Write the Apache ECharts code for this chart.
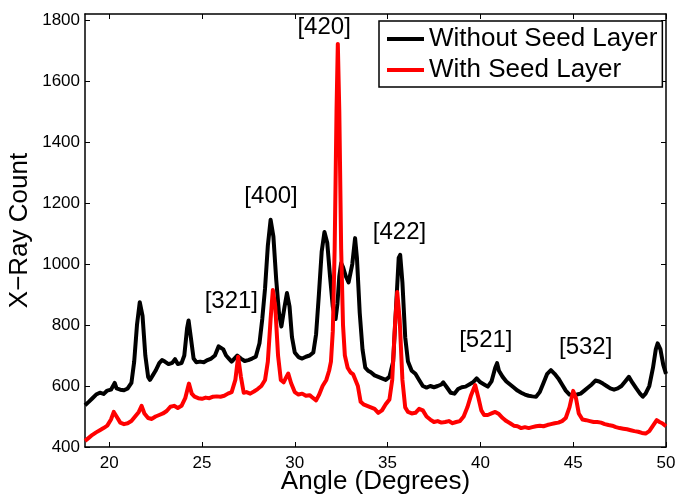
<!DOCTYPE html>
<html>
<head>
<meta charset="utf-8">
<script src="https://cdn.jsdelivr.net/npm/echarts@6/dist/echarts.min.js"></script>
<style>
  html, body { margin: 0; padding: 0; background: #fff; }
  #main { width: 676px; height: 497px; }
</style>
</head>
<body>
<div id="main"></div>
<script>
var angleBlack = [18.7,18.9,19.1,19.3,19.5,19.7,19.9,20.1,20.3,20.4,20.6,20.8,21.0,21.2,21.35,21.5,21.65,21.8,21.95,22.1,
  22.2,22.35,22.5,22.7,22.85,23.0,23.2,23.4,23.55,23.7,23.9,24.05,24.2,24.28,24.4,24.55,24.7,24.9,25.1,25.3,
  25.5,25.7,25.9,26.0,26.15,26.3,26.45,26.6,26.75,26.9,27.1,27.3,27.5,27.7,27.9,28.1,28.25,28.4,28.55,28.7,
  28.85,29.0,29.15,29.28,29.45,29.58,29.72,29.85,30.0,30.2,30.4,30.6,30.8,31.0,31.15,31.3,31.45,31.6,31.75,31.9,
  32.05,32.2,32.3,32.4,32.5,32.6,32.75,32.9,33.0,33.1,33.25,33.35,33.5,33.65,33.8,33.95,34.1,34.3,34.5,34.7,
  34.9,35.1,35.3,35.45,35.6,35.68,35.8,35.95,36.1,36.3,36.5,36.7,36.9,37.1,37.3,37.5,37.7,37.9,38.0,38.2,
  38.4,38.6,38.8,39.0,39.2,39.4,39.6,39.8,40.0,40.2,40.4,40.6,40.8,40.9,41.0,41.2,41.4,41.6,41.8,42.0,
  42.2,42.4,42.6,42.8,43.0,43.2,43.4,43.6,43.8,44.0,44.2,44.4,44.6,44.8,45.0,45.2,45.4,45.6,45.8,46.0,
  46.2,46.4,46.6,46.8,47.0,47.2,47.4,47.6,47.8,48.0,48.2,48.4,48.6,48.75,48.9,49.1,49.3,49.45,49.55,49.7,
  49.85,50.0];
var countBlack = [537,548,560,572,578,574,585,588,610,592,588,586,592,610,680,800,875,830,700,630,
  620,635,650,675,685,680,672,676,688,672,675,700,790,815,760,690,678,680,678,685,
  690,700,730,735,720,700,690,680,690,700,690,682,685,690,696,740,820,920,1060,1145,
  1090,950,840,795,860,905,860,760,710,695,690,696,700,710,770,900,1040,1105,1070,960,
  860,820,870,960,1003,990,960,940,945,1000,1085,1020,840,720,660,650,645,635,630,625,
  620,630,680,850,1020,1030,940,760,680,650,640,620,600,595,600,596,600,605,612,595,
  578,575,590,596,598,605,612,625,612,605,598,615,660,675,650,630,615,605,595,585,
  578,572,568,566,565,580,610,640,652,640,625,605,585,572,570,572,575,585,595,605,
  618,615,608,600,592,588,592,600,615,630,610,592,575,565,575,600,660,720,740,720,
  670,640];

var angleRed = [18.7,18.9,19.1,19.3,19.5,19.7,19.9,20.1,20.25,20.4,20.6,20.8,21.0,21.2,21.4,21.6,21.75,21.9,22.1,22.3,
  22.5,22.7,22.9,23.1,23.3,23.5,23.7,23.9,24.1,24.3,24.45,24.6,24.8,25.0,25.2,25.4,25.6,25.8,26.0,26.2,
  26.4,26.6,26.8,26.95,27.1,27.25,27.4,27.6,27.8,28.0,28.2,28.4,28.55,28.7,28.82,28.95,29.1,29.25,29.4,29.55,
  29.65,29.8,30.0,30.2,30.4,30.6,30.8,31.0,31.15,31.3,31.5,31.7,31.85,31.95,32.05,32.15,32.25,32.32,32.4,32.5,
  32.6,32.7,32.85,33.0,33.15,33.25,33.4,33.55,33.7,33.9,34.1,34.3,34.5,34.7,34.9,35.1,35.25,35.4,35.52,35.65,
  35.8,35.95,36.1,36.3,36.5,36.7,36.9,37.1,37.3,37.5,37.7,37.9,38.1,38.3,38.5,38.7,38.9,39.1,39.3,39.5,
  39.72,39.9,40.05,40.2,40.4,40.6,40.8,41.0,41.2,41.4,41.6,41.8,42.0,42.2,42.4,42.6,42.8,43.0,43.2,43.4,
  43.6,43.8,44.0,44.2,44.4,44.6,44.8,45.0,45.15,45.3,45.5,45.7,45.9,46.1,46.3,46.5,46.7,46.9,47.1,47.3,
  47.5,47.7,47.9,48.1,48.3,48.5,48.7,48.9,49.1,49.3,49.5,49.65,49.8,50.0];
var countRed = [420,430,440,448,455,462,470,490,515,500,480,475,478,485,500,515,535,510,495,492,
  500,505,510,518,532,535,528,535,560,608,575,565,560,558,562,560,565,566,565,568,
  575,580,620,696,630,578,580,575,582,590,600,620,680,820,915,860,700,620,612,630,
  641,610,580,572,575,568,570,560,553,570,600,620,650,680,780,1050,1500,1722,1500,1050,
  800,700,660,645,638,642,600,548,540,535,530,525,512,520,540,556,620,800,908,820,
  620,530,515,510,512,525,520,500,490,482,485,480,482,485,478,482,485,500,530,570,
  603,560,520,505,505,510,515,508,495,485,478,470,468,462,465,462,465,468,470,468,
  472,475,478,480,485,495,530,584,560,510,490,488,485,482,482,480,475,472,470,465,
  462,460,458,455,452,450,446,444,452,470,488,482,478,468];

var peakNames = ['[321]', '[400]', '[420]', '[422]', '[521]', '[532]'];
var peakAngle = [26.61, 28.75, 31.61, 35.67, 40.32, 45.7];
var peakCount = [877, 1219, 1776, 1101, 747, 724];

var xTicks = [20, 25, 30, 35, 40, 45, 50];
var yTicks = [400, 600, 800, 1000, 1200, 1400, 1600, 1800];

var font = "'Liberation Sans', Arial, Helvetica, sans-serif";

var myChart = echarts.init(document.getElementById('main'));

function pairs(xs, ys) {
  return xs.map(function(x, i) { return [x, ys[i]]; });
}

var peakData = peakNames.map(function(n, i) { return [peakAngle[i], peakCount[i], n]; });

var axisLine = { show: true, lineStyle: { color: '#000', width: 1.5 } };
var tickLine = { color: '#000', width: 1 };

option = {
  animation: false,
  backgroundColor: '#fff',
  grid: {
    left: 85,
    right: 10,
    top: 14,
    bottom: 50,
    containLabel: false,
    outerBoundsMode: 'none'
  },
  legend: {
    data: ['Without Seed Layer', 'With Seed Layer'],
    orient: 'vertical',
    left: 379,
    top: 21,
    padding: [4, 5, 3, 8],
    itemGap: 3,
    itemWidth: 37,
    itemHeight: 4,
    icon: 'rect',
    backgroundColor: '#fff',
    borderColor: '#000',
    borderWidth: 1.5,
    borderRadius: 0,
    textStyle: { fontFamily: font, fontSize: 26, color: '#000', lineHeight: 28 }
  },
  xAxis: [
    {
      type: 'value',
      min: 18.7,
      max: 50,
      name: 'Angle (Degrees)',
      nameLocation: 'middle',
      nameGap: 22,
      nameMoveOverlap: false,
      nameTextStyle: { fontFamily: font, fontSize: 26, color: '#000' },
      axisLine: axisLine,
      axisTick: { inside: true, length: 5, customValues: xTicks, lineStyle: tickLine },
      axisLabel: { customValues: xTicks, fontFamily: font, fontSize: 17, color: '#000', margin: 8 },
      splitLine: { show: false }
    },
    {
      type: 'value',
      position: 'top',
      min: 18.7,
      max: 50,
      axisLine: axisLine,
      axisTick: { inside: true, length: 5, customValues: xTicks, lineStyle: tickLine },
      axisLabel: { show: false },
      splitLine: { show: false }
    }
  ],
  yAxis: [
    {
      type: 'value',
      min: 400,
      max: 1820,
      name: 'X\u2212Ray Count',
      nameLocation: 'middle',
      nameGap: 52,
      nameMoveOverlap: false,
      nameTextStyle: { fontFamily: font, fontSize: 26, color: '#000' },
      axisLine: axisLine,
      axisTick: { inside: true, length: 5, customValues: yTicks, lineStyle: tickLine },
      axisLabel: {
        customValues: yTicks,
        formatter: function(v) { return String(v); },
        fontFamily: font, fontSize: 17, color: '#000', margin: 5
      },
      splitLine: { show: false }
    },
    {
      type: 'value',
      position: 'right',
      min: 400,
      max: 1820,
      axisLine: axisLine,
      axisTick: { inside: true, length: 5, customValues: yTicks, lineStyle: tickLine },
      axisLabel: { show: false },
      splitLine: { show: false }
    }
  ],
  series: [
    {
      name: 'Without Seed Layer',
      type: 'line',
      symbol: 'none',
      color: '#000',
      lineStyle: { width: 4, color: '#000', join: 'round' },
      data: pairs(angleBlack, countBlack),
      z: 2
    },
    {
      name: 'With Seed Layer',
      type: 'line',
      symbol: 'none',
      color: '#ff0000',
      lineStyle: { width: 4, color: '#ff0000', join: 'round' },
      data: pairs(angleRed, countRed),
      z: 3
    },
    {
      name: 'peaks',
      type: 'scatter',
      silent: true,
      symbolSize: 1,
      itemStyle: { color: 'rgba(0,0,0,0)' },
      label: {
        show: true,
        position: [0, 0],
        align: 'center',
        verticalAlign: 'middle',
        formatter: function(p) { return p.value[2]; },
        fontFamily: font,
        fontSize: 24,
        color: '#000',
        opacity: 1,
        textBorderWidth: 0
      },
      data: peakData,
      z: 4
    }
  ]
};

myChart.setOption(option);
</script>
</body>
</html>
